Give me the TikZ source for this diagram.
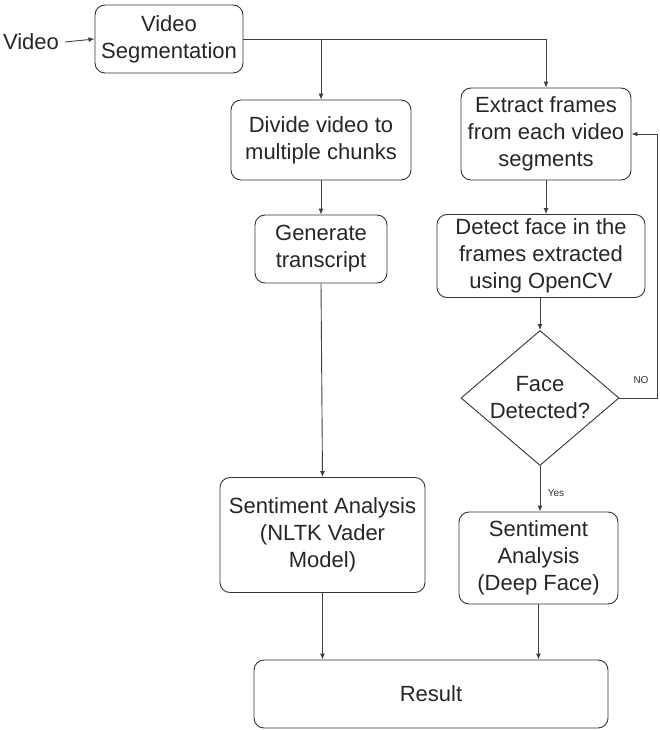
\documentclass[tikz,border=0pt]{standalone}
\usepackage{fontspec}
\setmainfont{Liberation Sans}
\usetikzlibrary{shapes.geometric,arrows.meta}
\begin{document}
\begin{tikzpicture}[x=1pt,y=-1pt,
  box/.style={draw=black!80, line width=0.9pt, rounded corners=10pt, align=center,
    inner sep=0pt, font=\fontsize{22}{27}\selectfont, text=black!85},
  conn/.style={draw=black!75, line width=0.9pt},
  arr/.style={conn, -{Latex[length=6pt,width=5pt]}},
  small/.style={font=\fontsize{10}{12}\selectfont, text=black!80}]
\useasboundingbox (0,0) rectangle (660,730);

\node[box, minimum width=148, minimum height=68] (seg) at (169,39) {Video\\Segmentation};
\node[font=\fontsize{22}{27}\selectfont, text=black!85, inner sep=0pt] (vid) at (31,42) {Video};
\node[box, minimum width=180, minimum height=80] (div) at (321,140) {Divide video to\\multiple chunks};
\node[box, minimum width=132, minimum height=68] (gen) at (321,249) {Generate\\transcript};
\node[box, minimum width=205, minimum height=115] (nltk) at (322.5,535) {Sentiment Analysis\\(NLTK Vader\\Model)};
\node[box, minimum width=170, minimum height=92] (ext) at (546,134) {Extract frames\\from each video\\segments};
\node[box, minimum width=208, minimum height=83] (det) at (541,256) {Detect face in the\\frames extracted\\using OpenCV};
\node[diamond, draw=black!80, line width=0.9pt, minimum width=158, minimum height=135, inner sep=0pt] (dia) at (540,398) {};
\node[align=center, font=\fontsize{22}{27}\selectfont, text=black!85] (diat) at (dia.center) {Face\\Detected?};
\node[box, minimum width=159, minimum height=92] (deep) at (538.5,558) {Sentiment\\Analysis\\(Deep Face)};
\node[box, minimum width=354, minimum height=68] (res) at (431,694) {Result};

\coordinate (bdiv) at (div.north |- seg.east);
\coordinate (bext) at (ext.north |- seg.east);
\coordinate (rdia) at (657,398);
\coordinate (rext) at (657,0 |- ext.east);

\draw[arr] ([xshift=6pt]vid.east) -- (seg.west);
\draw[conn] (seg.east) -- (bext);
\draw[arr] (bext) -- (ext.north);
\draw[arr] (bdiv) -- (div.north);
\draw[arr] (div.south) -- (gen.north);
\draw[arr] (gen.south) -- (nltk.north);
\draw[arr] (ext.south) -- (ext.south |- det.north);
\draw[arr] (det.south -| dia.north) -- (dia.north);
\draw[arr] (dia.south) -- node[small, right=4pt, pos=0.6] (yes) {Yes} (dia.south |- deep.north);
\draw[conn] (dia.east) -- (rdia) -- (rext);
\draw[arr] (rext) -- (ext.east);
\node[small] (no) at (641,380) {NO};
\draw[arr] (nltk.south) -- (nltk.south |- res.north);
\draw[arr] (deep.south) -- (deep.south |- res.north);
\end{tikzpicture}
\end{document}
